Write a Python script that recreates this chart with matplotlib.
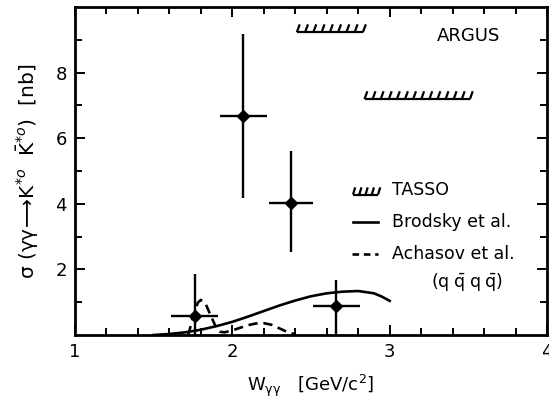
import numpy as np
import matplotlib
matplotlib.use("Agg")
import matplotlib.pyplot as plt
from matplotlib.ticker import MultipleLocator, FixedLocator

plt.rcParams['font.family'] = ['DejaVu Sans']
plt.rcParams['mathtext.fontset'] = 'dejavusans'

# ARGUS measurements
w_data = [1.76, 2.07, 2.37, 2.66]
sigma_data = [0.59, 6.68, 4.03, 0.89]
w_err = [0.15, 0.15, 0.14, 0.15]
sigma_lo = [0.59, 2.49, 1.49, 0.89]
sigma_hi = [1.27, 2.49, 1.57, 0.79]

# TASSO upper limits: (w_start, w_end, sigma_limit)
tasso_w0 = [2.41, 2.84]
tasso_w1 = [2.83, 3.51]
tasso_lim = [9.23, 7.19]

# Brodsky et al. prediction
w_brodsky = [1.50, 1.60, 1.70, 1.80, 1.90, 2.00, 2.10, 2.20, 2.30, 2.40,
             2.50, 2.60, 2.70, 2.80, 2.90, 2.95, 3.00]
s_brodsky = [0.00, 0.03, 0.08, 0.16, 0.27, 0.40, 0.56, 0.73, 0.90, 1.05,
             1.18, 1.27, 1.32, 1.34, 1.27, 1.17, 1.04]

# Achasov et al. (q qbar q qbar) prediction
w_achasov = [1.72, 1.75, 1.78, 1.80, 1.83, 1.86, 1.89, 1.92, 1.95, 2.00,
             2.05, 2.10, 2.15, 2.20, 2.25, 2.30, 2.35, 2.40]
s_achasov = [0.00, 0.55, 0.98, 1.07, 0.95, 0.62, 0.30, 0.10, 0.08, 0.14,
             0.22, 0.30, 0.35, 0.36, 0.31, 0.20, 0.09, 0.02]

fig = plt.figure(figsize=(5.49, 4.09), dpi=100)
ax = fig.add_axes([0.1366, 0.181, 0.8598, 0.802])

lw = 1.9
ax.errorbar(w_data, sigma_data, xerr=w_err, yerr=[sigma_lo, sigma_hi],
            fmt='D', color='black', ms=6, elinewidth=1.7, capsize=0, zorder=5)

ax.plot(w_brodsky, s_brodsky, color='black', lw=lw)
ax.plot(w_achasov, s_achasov, color='black', lw=lw, ls=(0, (3.5, 2.2)))


def hatched_limit(ax, x0, x1, y, n, trans=None):
    kw = dict(color='black', lw=1.6, solid_capstyle='butt')
    if trans is not None:
        kw['transform'] = trans
    ax.plot([x0, x1], [y, y], **kw)
    span = x1 - x0
    for xs in np.linspace(x0, x1, n):
        dx = span / (n - 1) * 0.35 if n > 1 else 0
        ax.plot([xs, xs + dx], [y, y + (0.022 if trans is not None else 0.24)], **kw)


for a, b, lim in zip(tasso_w0, tasso_w1, tasso_lim):
    n = int(round((b - a) / 0.05)) + 1
    hatched_limit(ax, a, b, lim, n)

ax.set_xlim(1, 4)
ax.set_ylim(0, 10)
ax.xaxis.set_major_locator(FixedLocator([1, 2, 3, 4]))
ax.xaxis.set_minor_locator(MultipleLocator(0.2))
ax.yaxis.set_major_locator(FixedLocator([2, 4, 6, 8]))
ax.yaxis.set_minor_locator(FixedLocator([1, 3, 5, 7, 9]))
ax.tick_params(which='both', direction='in', top=True, right=True,
               width=1.4, labelsize=13)
ax.tick_params(which='major', length=7, pad=6)
ax.tick_params(which='minor', length=5)
for s in ax.spines.values():
    s.set_linewidth(2.0)

ax.set_xlabel(r'W$_{\mathregular{γγ}}$   [GeV/c$^{2}$]', fontsize=13, labelpad=8)
ax.set_ylabel(r'σ (γγ$\!\longrightarrow\!$K$^{*o}$  $\bar{\mathrm{K}}^{*o}$)  [nb]',
              fontsize=14.5, labelpad=10)

ax.text(3.5, 9.1, 'ARGUS', fontsize=13, ha='center', va='center')

# legend
T = ax.transAxes
hatched_limit(ax, 0.589, 0.642, 0.428, 5, trans=T)
ax.plot([0.589, 0.642], [0.345, 0.345], color='black', lw=lw, transform=T)
ax.plot([0.587, 0.642], [0.247, 0.247], color='black', lw=lw,
        ls=(0, (2.5, 1.8)), transform=T)
tx = 0.672
ax.text(tx, 0.442, 'TASSO', fontsize=12.5, transform=T, va='center')
ax.text(tx, 0.345, 'Brodsky et al.', fontsize=12.5, transform=T, va='center')
ax.text(tx, 0.247, 'Achasov et al.', fontsize=12.5, transform=T, va='center')
ax.text(0.83, 0.16, r'$(\mathrm{q}\;\bar{\mathrm{q}}\;\mathrm{q}\;\bar{\mathrm{q}})$',
        fontsize=12.5, transform=T, va='center', ha='center')

fig.savefig('out.png', dpi=100)
